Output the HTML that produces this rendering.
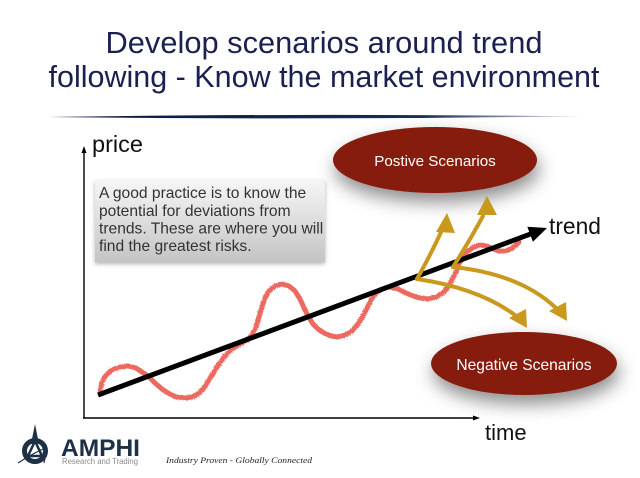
<!DOCTYPE html>
<html><head><meta charset="utf-8"><style>
html,body{margin:0;padding:0;background:#fff;}
svg{display:block;}
text{font-family:"Liberation Sans",sans-serif;}
</style></head><body>
<svg width="640" height="478" viewBox="0 0 640 478" xmlns="http://www.w3.org/2000/svg">
<defs>
  <linearGradient id="rule" x1="0" x2="1" y1="0" y2="0">
    <stop offset="0" stop-color="#0c1640"/>
    <stop offset="0.7" stop-color="#1a2a5c"/>
    <stop offset="1" stop-color="#2a3d70" stop-opacity="0.2"/>
  </linearGradient>
  <linearGradient id="box" x1="0" x2="0" y1="0" y2="1">
    <stop offset="0" stop-color="#f6f6f6"/>
    <stop offset="1" stop-color="#c4c4c4"/>
  </linearGradient>
  <filter id="sh" x="-40%" y="-60%" width="180%" height="240%">
    <feDropShadow dx="2" dy="9" stdDeviation="9" flood-color="#000" flood-opacity="0.45"/>
  </filter>
  <filter id="sh2" x="-10%" y="-10%" width="120%" height="130%">
    <feDropShadow dx="0" dy="2" stdDeviation="2" flood-color="#000" flood-opacity="0.3"/>
  </filter>
  <filter id="rough" x="-5%" y="-5%" width="110%" height="110%">
    <feTurbulence type="fractalNoise" baseFrequency="0.9" numOctaves="2" result="n"/>
    <feDisplacementMap in="SourceGraphic" in2="n" scale="2.5"/>
  </filter>
</defs>

<!-- Title -->
<text x="324" y="53" text-anchor="middle" font-size="30.5" fill="#1a2050" textLength="437" lengthAdjust="spacingAndGlyphs">Develop scenarios around trend</text>
<text x="324" y="87" text-anchor="middle" font-size="30.5" fill="#1a2050" textLength="551" lengthAdjust="spacingAndGlyphs">following - Know the market environment</text>
<path d="M48,117 Q300,113.2 582,116.3 Q300,120 48,117 Z" fill="url(#rule)"/>

<!-- Axes -->
<line x1="84" y1="152" x2="84" y2="418" stroke="#000" stroke-width="1.4"/>
<polygon points="84,146 81.5,153 86.5,153" fill="#000"/>
<line x1="83" y1="418" x2="474" y2="418" stroke="#000" stroke-width="1.4"/>
<polygon points="480,418 473,415.5 473,420.5" fill="#000"/>
<text x="92" y="152" font-size="23.5" fill="#111">price</text>
<text x="485" y="440" font-size="22" fill="#111">time</text>
<text x="549" y="234" font-size="22.8" fill="#111">trend</text>

<!-- Text box -->
<rect x="95" y="180" width="230" height="82" fill="url(#box)" filter="url(#sh2)"/>
<g font-size="15.6" fill="#333">
<text x="99" y="198">A good practice is to know the</text>
<text x="99" y="216">potential for deviations from</text>
<text x="99" y="233.5">trends. These are where you will</text>
<text x="99" y="251">find the greatest risks.</text>
</g>

<!-- Ellipses -->
<ellipse cx="435" cy="160" rx="102" ry="33" fill="#861a0e" filter="url(#sh)"/>
<text x="435" y="166" text-anchor="middle" font-size="15.2" fill="#fff">Postive Scenarios</text>
<ellipse cx="524" cy="363.5" rx="93" ry="31.5" fill="#861a0e" filter="url(#sh)"/>
<text x="524" y="370" text-anchor="middle" font-size="15.6" fill="#fff">Negative Scenarios</text>

<!-- Red price wave -->
<polyline filter="url(#rough)" fill="none" stroke="#ea5a50" stroke-width="5" stroke-linejoin="round" stroke-linecap="round" stroke-opacity="0.9"
points="100,390 102,382 106,375 112,370 120,367 128,366 136,368 142,372 148,376 155,383 162,389 168,393 176,397 185,398 192,397 198,394 204,388 209,380 214,372 219,364 225,356 232,349 240,344 247,340 252,335 256,327 259,317 262,307 265,298 269,291 275,286 282,284 289,286 295,291 300,299 304,308 308,316 313,324 318,329 324,333 331,336 338,337 345,335 352,331 358,324 363,316 367,308 371,300 376,293 382,289 390,287 398,289 406,293 413,296 420,298 428,299 436,297 443,293 448,287 452,280 456,272 459,264 463,257 468,251 474,247 480,245 487,246 493,249 499,251 505,251 511,249 515,246 519,242"/>

<!-- Trend line -->
<line x1="98" y1="395" x2="531" y2="233.8" stroke="#000" stroke-width="5"/>
<polygon points="547,228 532.9,241.8 527.3,226.8" fill="#000"/>

<!-- Gold arrows -->
<g fill="none" stroke="#c8991c" stroke-width="4" stroke-linecap="round">
  <path d="M417,279 Q432,252 441,232"/>
  <path d="M453,267 Q470,240 483,216"/>
  <path d="M417,279 Q478,288 515,315"/>
  <path d="M453,267 Q520,274 556,308"/>
</g>
<g fill="#c8991c">
  <polygon points="447,213 436,232 455,233"/>
  <polygon points="487,196 477,215 497,215"/>
  <polygon points="527,328 509,318 526,309"/>
  <polygon points="567,321 549,311 566,302"/>
</g>

<!-- Logo -->
<g>
  <circle cx="35" cy="451" r="10.5" fill="none" stroke="#1e3046" stroke-width="5"/>
  <polygon points="35,424 31,444 39,444" fill="#1e3046"/>
  <polygon points="35,441 28,456 42,456" fill="none" stroke="#1e3046" stroke-width="2.5"/>
  <path d="M18,463 Q30,455 45,448" stroke="#1e3046" stroke-width="1.2" fill="none"/>
  <path d="M44,463 Q46,455 45,444" stroke="#1e3046" stroke-width="1.2" fill="none"/>
</g>
<text x="61" y="456" font-size="24" font-weight="bold" fill="#1e3046" textLength="79" lengthAdjust="spacingAndGlyphs">AMPHI</text>
<text x="62" y="464" font-size="8.5" fill="#8a8a8a" textLength="76" lengthAdjust="spacingAndGlyphs">Research and Trading</text>
<text x="166" y="463" font-size="8" font-style="italic" fill="#222" style="font-family:'Liberation Serif',serif" textLength="146" lengthAdjust="spacingAndGlyphs">Industry Proven - Globally Connected</text>
</svg>
</body></html>
